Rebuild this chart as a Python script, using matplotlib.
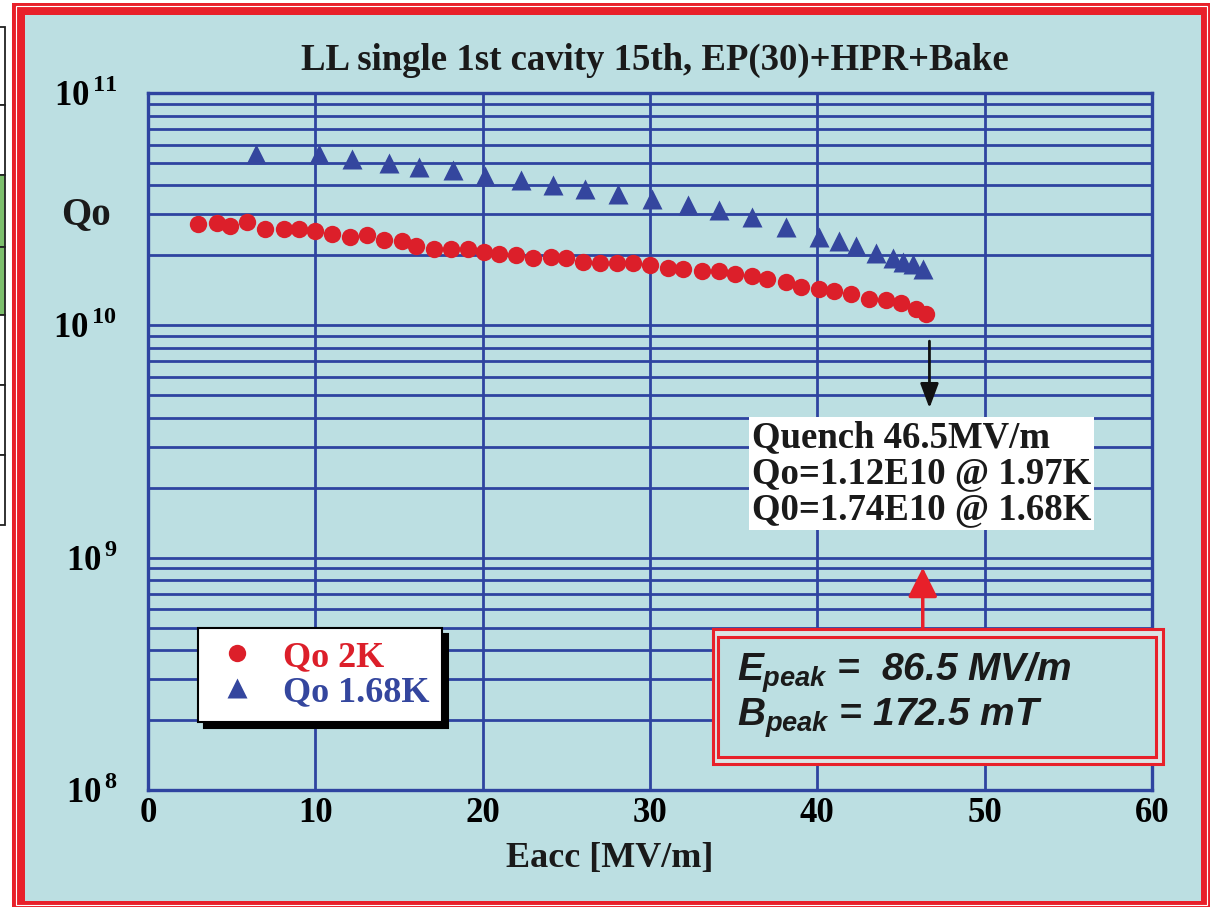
import numpy as np
import matplotlib
matplotlib.use('Agg')
import matplotlib.pyplot as plt
from matplotlib.patches import Rectangle
from matplotlib.ticker import FixedLocator, LogLocator, FuncFormatter, NullFormatter

# ---------------- data ----------------
E_2K = [3.0, 4.1, 4.9, 5.9, 7.0, 8.1, 9.0, 10.0, 11.0, 12.1, 13.1, 14.1, 15.2, 16.0,
        17.1, 18.1, 19.1, 20.1, 21.0, 22.0, 23.0, 24.1, 25.0, 26.0, 27.0, 28.0, 29.0,
        30.0, 31.1, 32.0, 33.1, 34.1, 35.1, 36.1, 37.0, 38.1, 39.0, 40.1, 41.0, 42.0,
        43.1, 44.1, 45.0, 45.9, 46.5]
Q_2K = [2.74e10, 2.75e10, 2.67e10, 2.79e10, 2.61e10, 2.61e10, 2.61e10, 2.55e10, 2.48e10,
        2.40e10, 2.44e10, 2.32e10, 2.31e10, 2.19e10, 2.14e10, 2.14e10, 2.14e10, 2.07e10,
        2.03e10, 2.00e10, 1.95e10, 1.96e10, 1.94e10, 1.87e10, 1.86e10, 1.86e10, 1.86e10,
        1.81e10, 1.77e10, 1.75e10, 1.72e10, 1.72e10, 1.67e10, 1.63e10, 1.58e10, 1.54e10,
        1.46e10, 1.44e10, 1.40e10, 1.36e10, 1.30e10, 1.28e10, 1.25e10, 1.18e10, 1.12e10]

E_168 = [6.45, 10.2, 12.2, 14.4, 16.2, 18.25, 20.15, 22.3, 24.2, 26.1, 28.1, 30.1, 32.3,
         34.1, 36.1, 38.1, 40.1, 41.3, 42.3, 43.5, 44.5, 45.1, 45.7, 46.3]
Q_168 = [5.48e10, 5.48e10, 5.20e10, 5.00e10, 4.80e10, 4.65e10, 4.38e10, 4.24e10, 4.00e10,
         3.87e10, 3.69e10, 3.49e10, 3.28e10, 3.13e10, 2.92e10, 2.65e10, 2.41e10, 2.30e10,
         2.19e10, 2.05e10, 1.94e10, 1.87e10, 1.84e10, 1.75e10]

x_ticks = [0, 10, 20, 30, 40, 50, 60]
y_decades = [1e8, 1e9, 1e10, 1e11]
labels = ['Qo 2K', 'Qo 1.68K']
title = 'LL single 1st cavity 15th, EP(30)+HPR+Bake'
quench_text = 'Quench 46.5MV/m\nQo=1.12E10 @ 1.97K\nQ0=1.74E10 @ 1.68K'
peak_lines = [r'$E_{peak}$ =  86.5 MV/m', r'$B_{peak}$ = 172.5 mT']

# ---------------- style ----------------
BG = '#bcdfe2'
GRID = '#2e44a0'
RED = '#dc1f2a'
TRI = '#34469e'
FRAME = '#e8202a'

plt.rcParams['font.family'] = ['Liberation Serif', 'DejaVu Serif']
plt.rcParams['font.weight'] = 'bold'
plt.rcParams['axes.labelweight'] = 'bold'
plt.rcParams['mathtext.fontset'] = 'custom'
plt.rcParams['mathtext.rm'] = 'Liberation Serif'
plt.rcParams['mathtext.bf'] = 'Liberation Serif:bold'
plt.rcParams['mathtext.it'] = 'Liberation Sans:italic:bold'

W, H = 1210, 907
fig = plt.figure(figsize=(W / 100, H / 100), dpi=100)
fig.patch.set_facecolor('white')


def fx(px):
    return px / W


def fy(py):
    return 1 - py / H


def frect(x0, y0, x1, y1, **kw):
    r = Rectangle((fx(x0), fy(y1)), fx(x1) - fx(x0), fy(y0) - fy(y1),
                  transform=fig.transFigure, **kw)
    fig.add_artist(r)
    return r


# slide frame
frect(12, 3, 1212, 909, fc=FRAME, ec='none', zorder=-10)
frect(15.5, 5.5, 1207, 905, fc='none', ec='white', lw=0.8, zorder=-9)
frect(25, 15, 1201, 901, fc=BG, ec='none', zorder=-8)

# clipped table at far left
cells = [(27, 105, 'white'), (105, 175, 'white'), (175, 247, '#7dbf6c'),
         (247, 315, '#7dbf6c'), (315, 385, 'white'), (385, 455, 'white'),
         (455, 525, 'white')]
for y0, y1, c in cells:
    frect(-3, y0, 4.5, y1, fc=c, ec='#222222', lw=1.3, zorder=-7)

# ---------------- axes ----------------
ax = fig.add_axes([fx(148), fy(790), fx(1152) - fx(148), fy(93) - fy(790)])
ax.set_facecolor(BG)
ax.set_yscale('log')
ax.set_xlim(0, 60)
ax.set_ylim(1e8, 1e11)

ax.xaxis.set_major_locator(FixedLocator(x_ticks))
ax.yaxis.set_major_locator(FixedLocator(y_decades))
ax.yaxis.set_minor_locator(LogLocator(base=10, subs=range(2, 10), numticks=20))
ax.yaxis.set_minor_formatter(NullFormatter())
ax.yaxis.set_major_formatter(FuncFormatter(
    lambda v, p: r'$\mathbf{10}^{\,\mathbf{%d}}$' % int(round(np.log10(v)))))

ax.grid(True, which='both', axis='y', color=GRID, lw=2.0)
ax.grid(True, which='major', axis='x', color=GRID, lw=2.0)
ax.set_axisbelow(True)
for s in ax.spines.values():
    s.set_color(GRID)
    s.set_linewidth(2.4)

ax.tick_params(axis='both', which='both', length=0)
ax.tick_params(axis='x', pad=5, labelsize=25)
ax.tick_params(axis='y', pad=22, labelsize=25)

ax.plot(E_2K, Q_2K, 'o', color=RED, ms=12.5, mec='none', label=labels[0], zorder=3)
ax.plot(E_168, Q_168, '^', color=TRI, ms=15, mec='none', label=labels[1], zorder=3)

ax.set_xlabel('Eacc [MV/m]', fontsize=26, fontweight='bold', va='center', color='#1a1a1a')
ax.xaxis.set_label_coords((610 - 148) / 1004, (790 - 858) / 697)
ax.set_ylabel('Qo', rotation=0, fontsize=28, fontweight='bold', ha='center', va='center',
              color='#1a1a1a')
ax.yaxis.set_label_coords((86 - 148) / 1004, (790 - 215) / 697)

fig.text(fx(655), fy(60), title, ha='center', va='center', fontsize=26.5, color='#1a1a1a')

leg = ax.legend(loc='upper left', bbox_to_anchor=((198 - 148) / 1004, (790 - 628) / 697),
                borderaxespad=0, prop=dict(family='Liberation Serif', weight='bold', size=26),
                labelcolor='markerfacecolor', frameon=True, fancybox=False,
                edgecolor='black', framealpha=1, facecolor='white',
                shadow={'ox': 4.5, 'oy': -4.5, 'color': 'black', 'alpha': 1},
                handlelength=1.45, handletextpad=0.55, borderpad=0.35, labelspacing=0.05)
leg.get_frame().set_linewidth(1.5)

# quench arrow and note
ax.annotate('', xy=(46.7, 4.4e9), xytext=(46.7, 8.55e9),
            arrowprops=dict(arrowstyle='-|>,head_length=0.75,head_width=0.28',
                            mutation_scale=20, color='#111111', lw=2.0, shrinkA=0, shrinkB=0))
fig.text(fx(752), fy(420), quench_text, ha='left', va='top', fontsize=26.5,
         linespacing=1.04, color='#1a1a1a', zorder=10,
         bbox=dict(boxstyle='square,pad=0.08', fc='white', ec='none'))

# peak field box and arrow
ax.annotate('', xy=(46.3, 9.06e8), xytext=(46.3, 4.9e8),
            arrowprops=dict(arrowstyle='-|>,head_length=0.9,head_width=0.45',
                            mutation_scale=20, color=FRAME, lw=2.5, shrinkA=0, shrinkB=0))
frect(713, 629, 1163, 764, fc='#dde3e4', ec=FRAME, lw=2.2, zorder=10)
frect(718, 637, 1156, 757, fc=BG, ec=FRAME, lw=2.2, zorder=11)
for i, s in enumerate(peak_lines):
    fig.text(fx(737), fy(681 + 45 * i), s, ha='left', va='baseline', fontsize=28,
             fontfamily='Liberation Sans', fontstyle='italic', fontweight='bold',
             color='#1a1a1a', zorder=12)

fig.savefig('out.png', dpi=100, facecolor=fig.get_facecolor())
